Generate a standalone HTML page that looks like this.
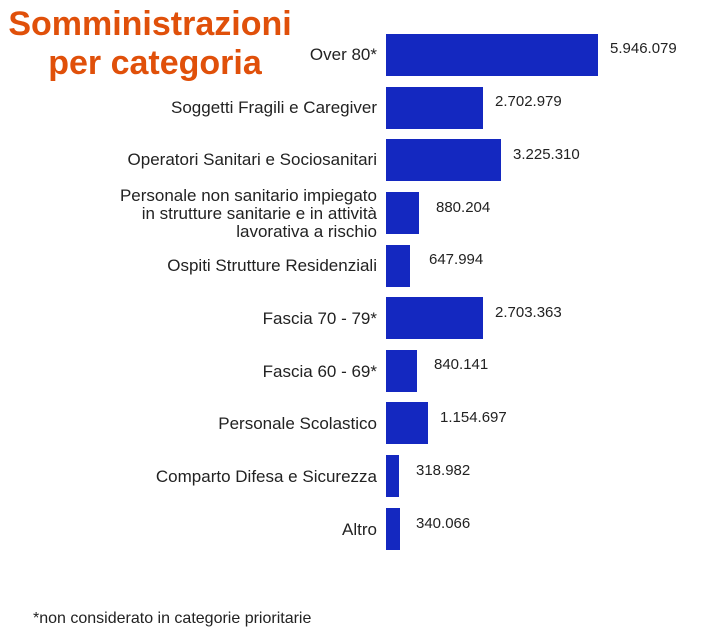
<!DOCTYPE html>
<html><head><meta charset="utf-8"><style>
body{margin:0;background:#fff;width:703px;height:634px;overflow:hidden;position:relative;font-family:"Liberation Sans",sans-serif}
.t{position:absolute;left:0;width:300px;text-align:center;color:#e0500a;font-weight:bold;font-size:34px;line-height:38px}
.l{position:absolute;right:326px;text-align:right;color:#222;font-size:17px;line-height:18px;white-space:nowrap}
.b{position:absolute;left:386px;height:42px;background:#1428c0}
.v{position:absolute;color:#222;font-size:15px;line-height:17px}
</style></head><body>
<div class="t" style="top:5px">Somministrazioni</div>
<div class="t" style="top:44px;left:5px">per categoria</div>

<div class="l" style="top:46px">Over 80*</div>
<div class="b" style="top:34px;width:212px"></div><div class="v" style="left:610px;top:40px">5.946.079</div>

<div class="l" style="top:99px">Soggetti Fragili e Caregiver</div>
<div class="b" style="top:87px;width:97px"></div><div class="v" style="left:495px;top:93px">2.702.979</div>

<div class="l" style="top:151px">Operatori Sanitari e Sociosanitari</div>
<div class="b" style="top:139px;width:115px"></div><div class="v" style="left:513px;top:146px">3.225.310</div>

<div class="l" style="top:187px">Personale non sanitario impiegato<br>in strutture sanitarie e in attività<br>lavorativa a rischio</div>
<div class="b" style="top:192px;width:33px"></div><div class="v" style="left:436px;top:199px">880.204</div>

<div class="l" style="top:257px">Ospiti Strutture Residenziali</div>
<div class="b" style="top:245px;width:24px"></div><div class="v" style="left:429px;top:251px">647.994</div>

<div class="l" style="top:310px">Fascia 70 - 79*</div>
<div class="b" style="top:297px;width:97px"></div><div class="v" style="left:495px;top:304px">2.703.363</div>

<div class="l" style="top:363px">Fascia 60 - 69*</div>
<div class="b" style="top:350px;width:31px"></div><div class="v" style="left:434px;top:356px">840.141</div>

<div class="l" style="top:415px">Personale Scolastico</div>
<div class="b" style="top:402px;width:42px"></div><div class="v" style="left:440px;top:409px">1.154.697</div>

<div class="l" style="top:468px">Comparto Difesa e Sicurezza</div>
<div class="b" style="top:455px;width:13px"></div><div class="v" style="left:416px;top:462px">318.982</div>

<div class="l" style="top:521px">Altro</div>
<div class="b" style="top:508px;width:14px"></div><div class="v" style="left:416px;top:515px">340.066</div>

<div style="position:absolute;left:33px;top:610px;color:#222;font-size:16px">*non considerato in categorie prioritarie</div>
</body></html>
